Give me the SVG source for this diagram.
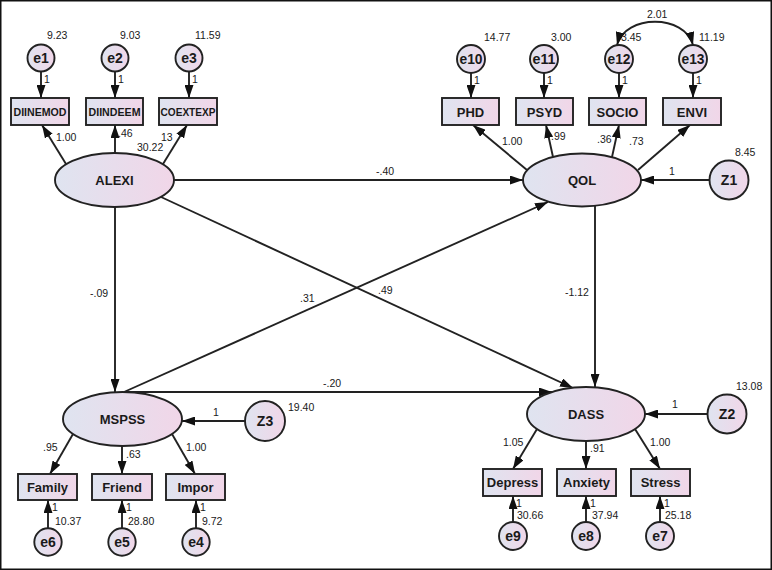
<svg xmlns="http://www.w3.org/2000/svg" width="772" height="570" viewBox="0 0 772 570">
<defs>
<linearGradient id="g" x1="0" y1="0" x2="1" y2="0">
<stop offset="0" stop-color="#dfe4f0"/><stop offset="1" stop-color="#f1d6e8"/>
</linearGradient>
<marker id="ah" viewBox="0 0 13 9" refX="13" refY="4.5" markerWidth="13" markerHeight="9" orient="auto-start-reverse" markerUnits="userSpaceOnUse">
<path d="M0,0 L13,4.5 L0,9 z" fill="#111"/>
</marker>
<style>
.sh{fill:url(#g);stroke:#222;stroke-width:1.9}
.ln{fill:none;stroke:#222;stroke-width:1.9;marker-end:url(#ah)}
.nm{font-family:"Liberation Sans",Arial,sans-serif;font-weight:bold;font-size:13px;fill:#1a1a1a;text-anchor:middle}
.bx{font-family:"Liberation Sans",Arial,sans-serif;font-weight:bold;font-size:10.5px;fill:#1a1a1a;text-anchor:middle}
.el{font-family:"Liberation Sans",Arial,sans-serif;font-weight:bold;font-size:14px;fill:#1a1a1a;text-anchor:middle}
.n{font-family:"Liberation Sans",Arial,sans-serif;font-size:10.5px;fill:#1a1a1a}
</style>
</defs>
<rect x="0.75" y="0.75" width="770.5" height="568.5" fill="#fff" stroke="#111" stroke-width="1.5"/>

<g id="connectors">
<path class="ln" d="M41,71.5 V98"/><path class="ln" d="M115,71.5 V98"/><path class="ln" d="M189,71.5 V98"/>
<path class="ln" d="M471,73 V98"/><path class="ln" d="M544,73 V98"/><path class="ln" d="M619,73 V98"/><path class="ln" d="M693,73 V98"/>
<path class="ln" d="M48,528 V500"/><path class="ln" d="M122,528 V500"/><path class="ln" d="M196,528 V500"/>
<path class="ln" d="M513,522 V496"/><path class="ln" d="M586,522 V496"/><path class="ln" d="M660,522 V496"/>
<path class="ln" d="M66,164 L42,125"/><path class="ln" d="M115,153 V125"/><path class="ln" d="M163,164 L187,125"/>
<path class="ln" d="M527,170 L473,125"/><path class="ln" d="M553,157 L546,125"/><path class="ln" d="M612,157 L619,125"/><path class="ln" d="M638,170 L690,125"/>
<path class="ln" d="M73,434 L50,474"/><path class="ln" d="M122,446 V474"/><path class="ln" d="M172,434 L195,474"/>
<path class="ln" d="M537,429 L513,469"/><path class="ln" d="M586,441 V469"/><path class="ln" d="M635,429 L660,469"/>
<path class="ln" d="M709.5,180 H641"/><path class="ln" d="M245,421 H182"/><path class="ln" d="M707.5,414 H645"/>
<path class="ln" d="M174,180 H523"/>
<path class="ln" d="M115,207 V392"/>
<path class="ln" d="M161,197 L573,388"/>
<path class="ln" d="M124,392 L548,202"/>
<path class="ln" d="M124,392 H552"/>
<path class="ln" d="M595,206 V387"/>
<path d="M617,45 C625,14 685,14 693,45" fill="none" stroke="#222" stroke-width="1.9" marker-start="url(#ah)" marker-end="url(#ah)"/>
</g>

<g id="ALEXI"><ellipse class="sh" cx="114.5" cy="180" rx="59.5" ry="27"/><text class="nm" x="114.5" y="185">ALEXI</text></g>
<g id="QOL"><ellipse class="sh" cx="582" cy="180" rx="59" ry="26.5"/><text class="nm" x="582" y="185">QOL</text></g>
<g id="MSPSS"><ellipse class="sh" cx="122.5" cy="419" rx="59.5" ry="27"/><text class="nm" x="122.5" y="424">MSPSS</text></g>
<g id="DASS"><ellipse class="sh" cx="586" cy="414" rx="59" ry="27"/><text class="nm" x="586" y="419">DASS</text></g>

<g id="DIINEMOD"><rect class="sh" x="11" y="98" width="58" height="27"/><text class="bx" x="40" y="115.5" textLength="53" lengthAdjust="spacingAndGlyphs">DIINEMOD</text></g>
<g id="DIINDEEM"><rect class="sh" x="86" y="98" width="57" height="27"/><text class="bx" x="114.5" y="115.5" textLength="52" lengthAdjust="spacingAndGlyphs">DIINDEEM</text></g>
<g id="COEXTEXP"><rect class="sh" x="159" y="98" width="58" height="27"/><text class="bx" x="188" y="115.5" textLength="55" lengthAdjust="spacingAndGlyphs">COEXTEXP</text></g>
<g id="PHD"><rect class="sh" x="442" y="98" width="57" height="27"/><text class="nm" x="470.5" y="116.5">PHD</text></g>
<g id="PSYD"><rect class="sh" x="516" y="98" width="57" height="27"/><text class="nm" x="544.5" y="116.5">PSYD</text></g>
<g id="SOCIO"><rect class="sh" x="589" y="98" width="57" height="27"/><text class="nm" x="617.5" y="116.5">SOCIO</text></g>
<g id="ENVI"><rect class="sh" x="663" y="98" width="58" height="27"/><text class="nm" x="692" y="116.5">ENVI</text></g>
<g id="Family"><rect class="sh" x="18" y="474" width="59" height="26"/><text class="nm" x="47.5" y="492">Family</text></g>
<g id="Friend"><rect class="sh" x="92" y="474" width="60" height="26"/><text class="nm" x="122" y="492">Friend</text></g>
<g id="Impor"><rect class="sh" x="166" y="474" width="59" height="26"/><text class="nm" x="195.5" y="492">Impor</text></g>
<g id="Depress"><rect class="sh" x="483" y="469" width="59" height="27"/><text class="nm" x="512.5" y="487">Depress</text></g>
<g id="Anxiety"><rect class="sh" x="557" y="469" width="59" height="27"/><text class="nm" x="586.5" y="487">Anxiety</text></g>
<g id="Stress"><rect class="sh" x="631" y="469" width="59" height="27"/><text class="nm" x="660.5" y="487">Stress</text></g>

<g id="e1"><circle class="sh" cx="41" cy="58" r="13.5"/><text class="el" x="41" y="63">e1</text></g>
<g id="e2"><circle class="sh" cx="115" cy="58" r="13.5"/><text class="el" x="115" y="63">e2</text></g>
<g id="e3"><circle class="sh" cx="189" cy="58" r="13.5"/><text class="el" x="189" y="63">e3</text></g>
<g id="e10"><circle class="sh" cx="471" cy="59" r="14"/><text class="el" x="471" y="64" textLength="23" lengthAdjust="spacingAndGlyphs">e10</text></g>
<g id="e11"><circle class="sh" cx="544" cy="59" r="14"/><text class="el" x="544" y="64" textLength="23" lengthAdjust="spacingAndGlyphs">e11</text></g>
<g id="e12"><circle class="sh" cx="619" cy="59" r="14"/><text class="el" x="619" y="64" textLength="23" lengthAdjust="spacingAndGlyphs">e12</text></g>
<g id="e13"><circle class="sh" cx="693" cy="59" r="14"/><text class="el" x="693" y="64" textLength="23" lengthAdjust="spacingAndGlyphs">e13</text></g>
<g id="e6"><circle class="sh" cx="48" cy="542" r="13.7"/><text class="el" x="48" y="547">e6</text></g>
<g id="e5"><circle class="sh" cx="122" cy="542" r="13.7"/><text class="el" x="122" y="547">e5</text></g>
<g id="e4"><circle class="sh" cx="196" cy="542" r="13.7"/><text class="el" x="196" y="547">e4</text></g>
<g id="e9"><circle class="sh" cx="513" cy="536" r="14"/><text class="el" x="513" y="541">e9</text></g>
<g id="e8"><circle class="sh" cx="586" cy="536" r="14"/><text class="el" x="586" y="541">e8</text></g>
<g id="e7"><circle class="sh" cx="660" cy="536" r="14"/><text class="el" x="660" y="541">e7</text></g>
<g id="Z1"><circle class="sh" cx="729" cy="180" r="19.5"/><text class="el" x="729" y="185">Z1</text></g>
<g id="Z2"><circle class="sh" cx="727" cy="414" r="19.5"/><text class="el" x="727" y="419">Z2</text></g>
<g id="Z3"><circle class="sh" cx="265" cy="421" r="20"/><text class="el" x="265" y="426">Z3</text></g>

<g id="labels">
<text class="n" x="47" y="39">9.23</text><text class="n" x="120" y="39">9.03</text><text class="n" x="195" y="39">11.59</text>
<text class="n" x="44" y="83">1</text><text class="n" x="118" y="83">1</text><text class="n" x="192" y="83">1</text>
<text class="n" x="56" y="141">1.00</text><text class="n" x="118" y="137">.46</text><text class="n" x="137" y="151">30.22</text><text class="n" x="161" y="141">13</text>
<text class="n" x="484" y="41">14.77</text><text class="n" x="551" y="41">3.00</text><text class="n" x="621" y="41">3.45</text><text class="n" x="699" y="41">11.19</text>
<text class="n" x="647" y="18">2.01</text>
<text class="n" x="474" y="84">1</text><text class="n" x="547" y="84">1</text><text class="n" x="622" y="84">1</text><text class="n" x="696" y="84">1</text>
<text class="n" x="502" y="145">1.00</text><text class="n" x="551" y="140">.99</text><text class="n" x="597" y="143">.36</text><text class="n" x="629" y="145">.73</text>
<text class="n" x="669" y="175">1</text><text class="n" x="735" y="156">8.45</text>
<text class="n" x="376" y="175">-.40</text>
<text class="n" x="90" y="297">-.09</text><text class="n" x="300" y="302">.31</text><text class="n" x="378" y="294">.49</text><text class="n" x="565" y="296">-1.12</text><text class="n" x="323" y="387">-.20</text>
<text class="n" x="213" y="416">1</text><text class="n" x="288" y="411">19.40</text>
<text class="n" x="43" y="451">.95</text><text class="n" x="126" y="458">.63</text><text class="n" x="186" y="451">1.00</text>
<text class="n" x="52" y="511">1</text><text class="n" x="126" y="511">1</text><text class="n" x="200" y="511">1</text>
<text class="n" x="55" y="525">10.37</text><text class="n" x="128" y="525">28.80</text><text class="n" x="202" y="525">9.72</text>
<text class="n" x="672" y="408">1</text><text class="n" x="736" y="390">13.08</text>
<text class="n" x="503" y="446">1.05</text><text class="n" x="590" y="452">.91</text><text class="n" x="650" y="446">1.00</text>
<text class="n" x="516" y="507">1</text><text class="n" x="590" y="507">1</text><text class="n" x="664" y="507">1</text>
<text class="n" x="517" y="519">30.66</text><text class="n" x="592" y="519">37.94</text><text class="n" x="665" y="519">25.18</text>
</g>
</svg>
